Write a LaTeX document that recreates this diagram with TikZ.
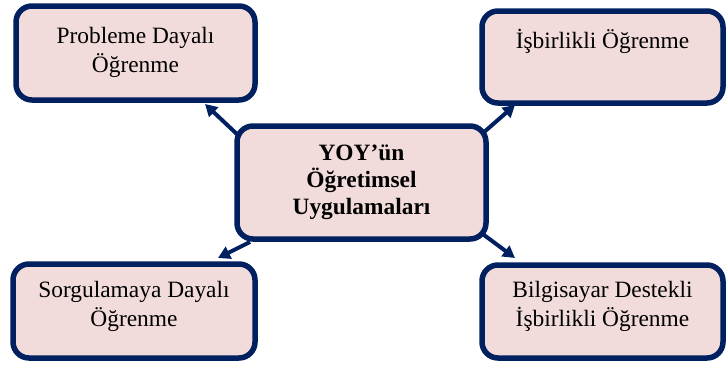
\documentclass[tikz,border=0pt]{standalone}
\usepackage{fontspec}
\setmainfont{Liberation Serif}
\usetikzlibrary{arrows.meta,calc}
\definecolor{boxfill}{HTML}{F2DCDB}
\definecolor{navy}{RGB}{0,32,96}
\begin{document}
\begin{tikzpicture}[x=1pt,y=-1pt,
  box/.style={draw=navy,fill=boxfill,line width=5.5pt,rounded corners=16pt,
    rectangle,outer sep=0pt,inner sep=0pt,anchor=north west},
  txt/.style={align=center,inner sep=0pt,font=\fontsize{23.4}{29}\selectfont},
  btxt/.style={align=center,inner sep=0pt,font=\fontsize{23.4}{27}\selectfont\bfseries},
  link/.style={draw=navy,line width=4pt,-{Triangle[length=12pt,width=13pt]}}]
\useasboundingbox (0,0) rectangle (728,367);

% outer boxes and the central box
\node[box,minimum width=239pt,minimum height=94pt] (tl) at (16,6) {};
\node[box,minimum width=241pt,minimum height=92pt] (tr) at (482,11) {};
\node[box,minimum width=242pt,minimum height=94pt] (bl) at (13,264) {};
\node[box,minimum width=241pt,minimum height=93pt] (br) at (482,265) {};

% arrows from the central box to each outer box
\draw[link] ($(tl.north west)+(224,131)$) -- ($(tl.north west)+(189,98)$);
\draw[link] ($(tr.north west)+(1,122)$) -- ($(tr.north west)+(33,94)$);
\draw[link] ($(bl.north west)+(237,-22)$) -- ($(bl.north west)+(205,-6)$);
\draw[link] ($(br.north west)+(-2,-33)$) -- ($(br.north west)+(33,-7)$);

\node[box,minimum width=249pt,minimum height=113pt] (c) at (237,126) {};

% labels
\node[txt] (tlt) at ($(tl.center)+(0,-1)$) {Probleme Dayalı\\Öğrenme};
\node[txt,anchor=base] (trt) at (602.5,48) {İşbirlikli Öğrenme};
\node[txt] (blt) at ($(bl.center)+(0,-5)$) {Sorgulamaya Dayalı\\Öğrenme};
\node[txt] (brt) at ($(br.center)+(0,-5)$) {Bilgisayar Destekli\\İşbirlikli Öğrenme};
\node[btxt] (ct) at (c.center) {YOY’ün\\Öğretimsel\\Uygulamaları};
\end{tikzpicture}
\end{document}
